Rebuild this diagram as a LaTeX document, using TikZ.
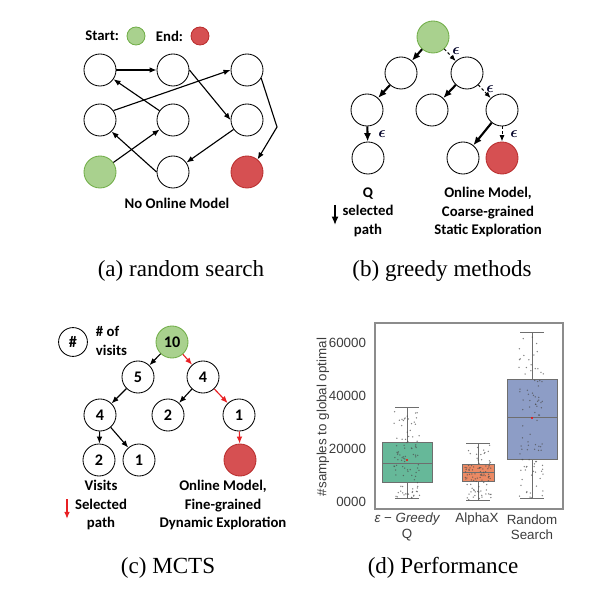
\documentclass[tikz,border=0pt]{standalone}
\usepackage{fontspec}
\setmainfont{Liberation Serif}
\newfontfamily\calfont{Carlito}
\newfontfamily\plotfont{Liberation Sans}
\usetikzlibrary{arrows.meta}

\definecolor{startgreen}{RGB}{169,209,142}
\definecolor{startedge}{RGB}{112,173,71}
\definecolor{endred}{RGB}{214,80,82}
\definecolor{endedge}{RGB}{185,45,45}
\definecolor{pathred}{RGB}{232,32,36}
\definecolor{boxgreen}{RGB}{102,184,153}
\definecolor{boxorange}{RGB}{236,138,100}
\definecolor{boxblue}{RGB}{141,157,198}
\definecolor{axisgray}{RGB}{140,140,140}
\definecolor{boxline}{RGB}{110,110,110}
\definecolor{ticktext}{RGB}{60,60,60}

\begin{document}
\begin{tikzpicture}[x=0.025cm, y=-0.025cm,
    state/.style={circle, draw=black, line width=0.6pt, fill=white, minimum size=0.8cm, inner sep=0pt,
        font=\calfont\bfseries\fontsize{11.5}{12}\selectfont},
    start/.style={state, fill=startgreen, draw=startedge},
    goal/.style={state, fill=endred, draw=endedge},
    lbl/.style={font=\calfont\bfseries\fontsize{10.5}{13.1}\selectfont, align=center},
    subcap/.style={font=\fontsize{16.4}{18}\selectfont},
    walk/.style={-{Latex[length=5pt,width=4pt]}, line width=0.8pt},
    greedy/.style={-{Latex[length=6pt,width=5pt]}, line width=1.5pt},
    explore/.style={-{Latex[length=4.5pt,width=3.5pt]}, line width=0.7pt, dash pattern=on 2pt off 1.5pt},
    eps/.style={font=\boldmath\fontsize{11}{12}\selectfont, text=black!85!blue},
    ticklbl/.style={font=\plotfont\fontsize{9.5}{11}\selectfont, text=ticktext},
    declare function={yv(\v)=502-\v*2.65;}]
    \useasboundingbox (0,0) rectangle (610,589);

    % (a) random search
        \node[lbl, anchor=east] (startlbl) at (124,36) {Start:};
        \node[start, minimum size=0.45cm] (startdot) at (136,36) {};
        \node[lbl, anchor=east] (endlbl) at (188,36) {End:};
        \node[goal, minimum size=0.45cm] (enddot) at (200,36) {};
        \node[state] (a11) at (100,70) {};
        \node[state] (a12) at (173,70) {};
        \node[state] (a13) at (247,70) {};
        \node[state] (a21) at (100,120) {};
        \node[state] (a22) at (173,120) {};
        \node[state] (a23) at (247,120) {};
        \node[start] (a31) at (100,172) {};
        \node[state] (a32) at (173,172) {};
        \node[goal] (a33) at (247,172) {};
        \coordinate (bend) at (277,127);
        \draw[walk] (a11) -- (a12);
        \draw[walk] (a22) -- (a11);
        \draw[walk] (a21.35) -- (a13.west);
        \draw[walk] (a12.east) -- (a23.west);
        \draw[walk] (a23) -- (a32);
        \draw[walk] (a32.west) -- (a21.-45);
        \draw[walk] (a31) -- (a22);
        \draw[walk] (a13.-30) -- (bend) -- (a33.50);
        \node[lbl] (nomodel) at (177,203) {No Online Model};
        \node[subcap] (capa) at (181,271) {(a) random search};

    % (b) greedy methods
        \node[start] (b0) at (433,37) {};
        \node[state] (b1) at (401,73) {};
        \node[state] (b2) at (467,73) {};
        \node[state] (b3) at (367,110) {};
        \node[state] (b4) at (432,110) {};
        \node[state] (b5) at (502,110) {};
        \node[state] (b6) at (368,158) {};
        \node[state] (b7) at (463,158) {};
        \node[goal] (b8) at (502,158) {};
        \draw[greedy] (b0) -- (b1);
        \draw[explore] (b0) -- (b2);
        \draw[greedy] (b1) -- (b3);
        \draw[greedy] (b2) -- (b4);
        \draw[explore] (b2) -- (b5);
        \draw[greedy] (b3) -- (b6);
        \draw[greedy] (b5) -- (b7);
        \draw[explore] (b5) -- (b8);
        \node[eps] (eps1) at (456,51) {$\epsilon$};
        \node[eps] (eps2) at (490,89) {$\epsilon$};
        \node[eps] (eps3) at (382,134) {$\epsilon$};
        \node[eps] (eps4) at (514,134) {$\epsilon$};
        \node[lbl] (qtext) at (368,212) {Q\\selected\\path};
        \coordinate (qtop) at (335,205);
        \coordinate (qbot) at (335,225);
        \draw[greedy, line width=1.1pt] (qtop) -- (qbot);
        \node[lbl] (coarse) at (488,212) {Online Model,\\Coarse-grained\\Static Exploration};
        \node[subcap] (capb) at (442,271) {(b) greedy methods};

    % (c) MCTS
        \node[state, minimum size=0.72cm] (hash) at (73,342) {\#};
        \node[lbl, align=left, anchor=west] (visits) at (91,341) {\# of\\visits};
        \node[start] (c0) at (172,342) {10};
        \node[state] (c1) at (138,377) {5};
        \node[state] (c2) at (203,377) {4};
        \node[state] (c3) at (100,415) {4};
        \node[state] (c4) at (168,415) {2};
        \node[state] (c5) at (239,415) {1};
        \node[state] (c6) at (99,460) {2};
        \node[state] (c7) at (139,460) {1};
        \node[goal] (c8) at (240,460) {};
        \draw[walk] (c0) -- (c1);
        \draw[walk, pathred] (c0) -- (c2);
        \draw[walk] (c1) -- (c3);
        \draw[walk] (c2) -- (c4);
        \draw[walk, pathred] (c2) -- (c5);
        \draw[walk] (c3) -- (c6);
        \draw[walk] (c3) -- (c7);
        \draw[walk, pathred] (c5) -- (c8);
        \node[lbl] (visittext) at (101,505) {Visits\\Selected\\path};
        \coordinate (rtop) at (67,499);
        \coordinate (rbot) at (67,519);
        \draw[walk, pathred, line width=1.1pt] (rtop) -- (rbot);
        \node[lbl] (fine) at (223,505) {Online Model,\\Fine-grained\\Dynamic Exploration};
        \node[subcap] (capc) at (168,568) {(c) MCTS};

    % (d) Performance
        \draw[axisgray, line width=0.8pt] (375,323) rectangle (563,509);
        \foreach \v in {0,20,40,60}
            \node[ticklbl, anchor=east] at (371,{yv(\v)}) {\v000};
        \node[ticklbl, rotate=90] (ylab) at (323,417) {\#samples to global optimal};
        \foreach \cx/\hw/\lo/\qa/\md/\qb/\hi/\col/\seed in
            {407/25/1.5/7.5/14.7/22.3/35.8/boxgreen/3,
             478/16/0.75/7.9/11.3/14.0/21.9/boxorange/7,
             532/25/1.5/16.2/32.0/46.4/64.0/boxblue/11} {
            \draw[boxline, line width=0.7pt] (\cx,{yv(\qb)}) -- (\cx,{yv(\hi)});
            \draw[boxline, line width=0.7pt] (\cx,{yv(\qa)}) -- (\cx,{yv(\lo)});
            \draw[boxline, line width=0.7pt] (\cx-12,{yv(\hi)}) -- (\cx+12,{yv(\hi)});
            \draw[boxline, line width=0.7pt] (\cx-12,{yv(\lo)}) -- (\cx+12,{yv(\lo)});
            \filldraw[fill=\col, draw=boxline, line width=0.7pt] (\cx-\hw,{yv(\qa)}) rectangle (\cx+\hw,{yv(\qb)});
            \draw[boxline, line width=0.7pt] (\cx-\hw,{yv(\md)}) -- (\cx+\hw,{yv(\md)});
            \pgfmathsetseed{\seed}
            \foreach \i in {1,...,95} {
                \pgfmathsetmacro\u{rnd}
                \pgfmathsetmacro\pv{\u<0.25 ? \lo+(\qa-\lo)*\u*4 : (\u<0.5 ? \qa+(\md-\qa)*(\u-0.25)*4 : (\u<0.75 ? \md+(\qb-\md)*(\u-0.5)*4 : \qb+(\hi-\qb)*(\u-0.75)*4))}
                \pgfmathsetmacro\px{\cx+13*rand}
                \fill[black!70, opacity=0.7] (\px,{yv(\pv)}) circle (0.75);
            }
        }
        \fill[red] (407,460) circle (1.1);
        \fill[red] (532,418) circle (1.1);
        \node[ticklbl, align=center] (xg) at (407,527) {{\itshape ε} − {\itshape Greedy}\\Q};
        \node[ticklbl] (xa) at (477,519) {AlphaX};
        \node[ticklbl, align=center] (xr) at (532,527) {Random\\Search};
        \node[subcap] (capd) at (443,568) {(d) Performance};
\end{tikzpicture}
\end{document}
